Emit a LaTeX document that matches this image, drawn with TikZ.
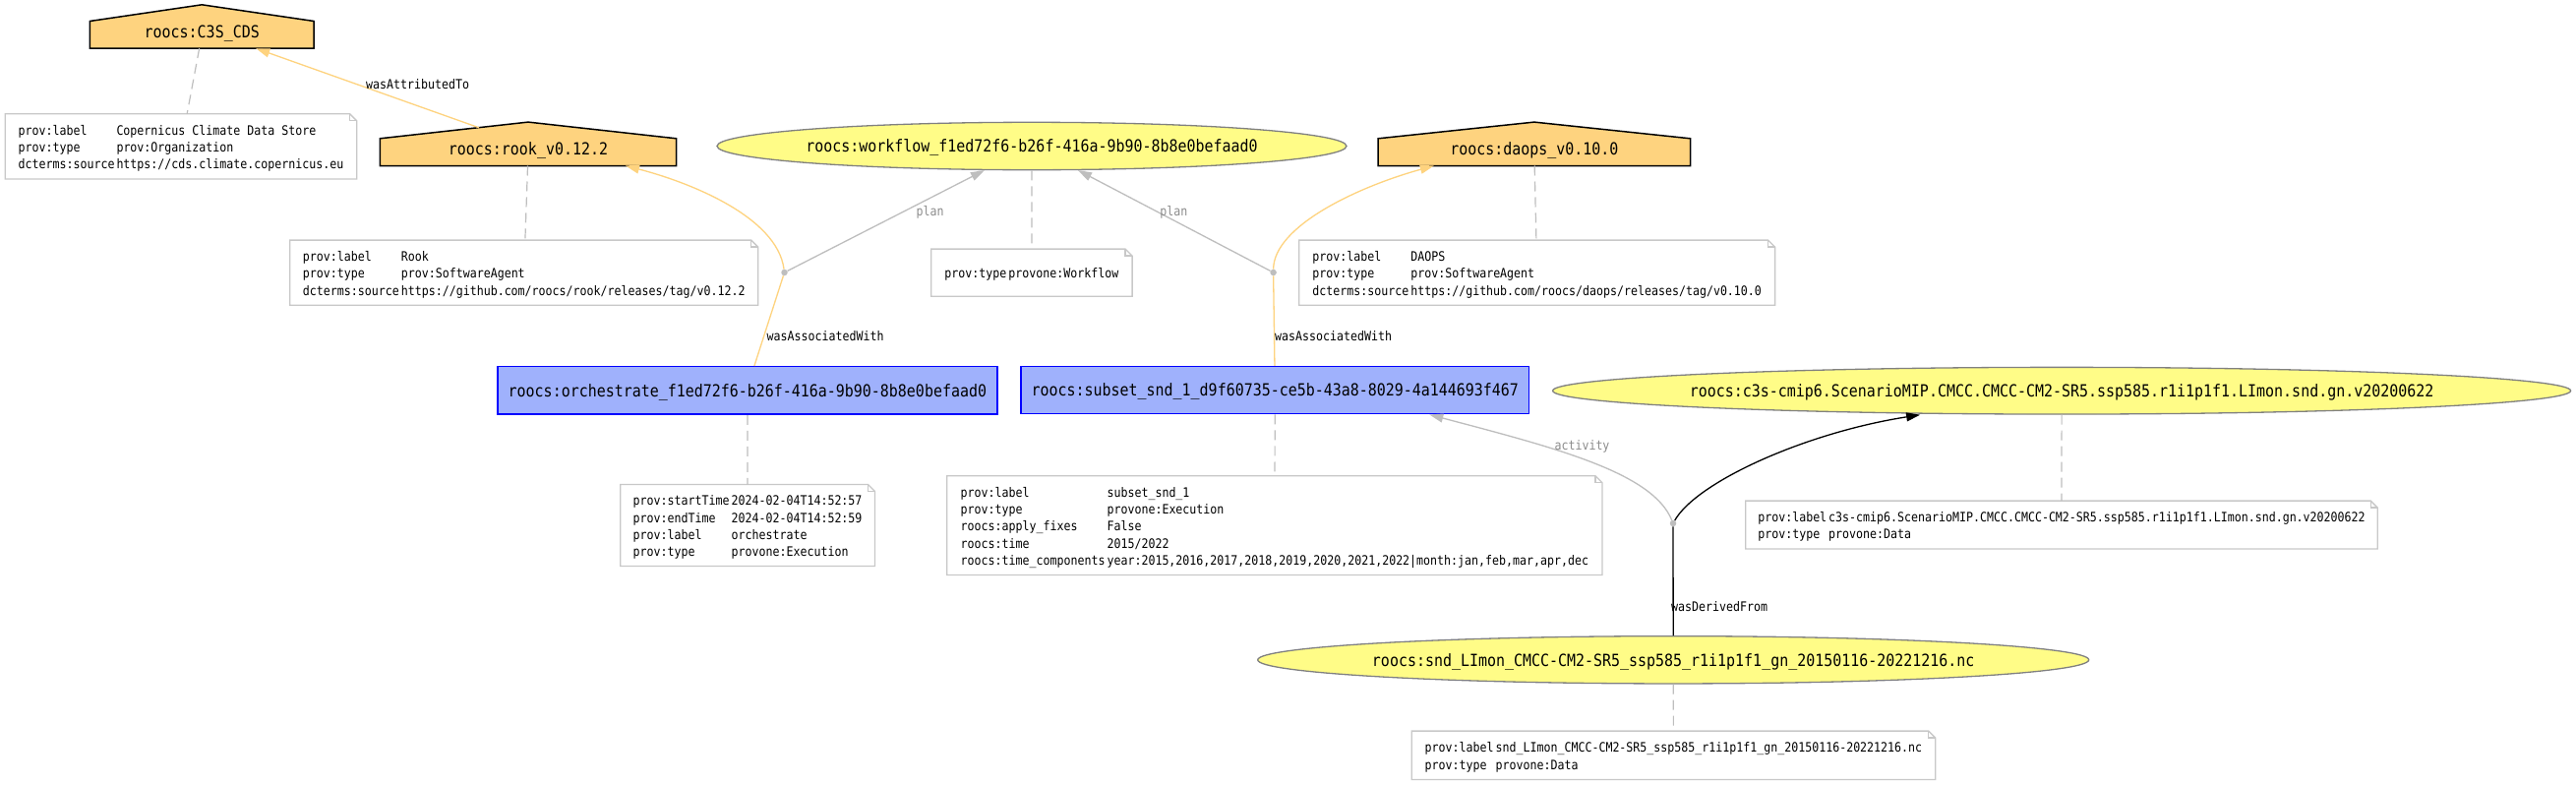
\documentclass[tikz,border=0pt]{standalone}
\usepackage{fontspec}
\newfontfamily\dvmono[FakeStretch=0.88]{DejaVu Sans Mono}
\usetikzlibrary{shapes.geometric,arrows.meta,backgrounds}
\definecolor{entfill}{HTML}{FFFC87}
\definecolor{entdraw}{HTML}{808080}
\definecolor{actfill}{HTML}{9FB1FC}
\definecolor{actdraw}{HTML}{0000FF}
\definecolor{agfill}{HTML}{FED37F}
\definecolor{edgegray}{HTML}{BEBEBE}
\definecolor{notegray}{HTML}{C8C8C8}
\definecolor{labgray}{HTML}{8C8C8C}
\newcommand\notebox[1]{%
  \draw[notedraw] (#1.south west) -- (#1.south east) -- ([yshift=-7pt]#1.north east) -- ([xshift=-7pt]#1.north east) -- (#1.north west) -- cycle;
  \draw[notedraw] ([xshift=-7pt]#1.north east) -- ([xshift=-7pt,yshift=-7pt]#1.north east) -- ([yshift=-7pt]#1.north east);}
\newcommand\houseroof[1]{%
  \begin{scope}[on background layer]
  \draw[housedraw] (#1.south west) -- (#1.south east) -- (#1.north east) -- ([yshift=16.7pt]#1.north) -- (#1.north west) -- cycle;
  \end{scope}}
\newcommand\ntab[1]{\raisebox{-2.2pt}[\height][\depth]{\begin{tabular}{@{}l@{\hspace{2pt}}l@{}}#1\end{tabular}}}
\begin{document}
\begin{tikzpicture}[x=1pt,y=-1pt,
  mainf/.style={font=\dvmono\fontsize{17}{20}\selectfont, text height=12.4pt, text depth=0pt},
  entity/.style={ellipse, draw=entdraw, fill=entfill, line width=1.3pt, inner sep=0pt, mainf},
  activity/.style={rectangle, draw=actdraw, fill=actfill, line width=1.5pt, inner sep=0pt, mainf},
  agent/.style={rectangle, inner sep=0pt, font=\dvmono\fontsize{17}{20}\selectfont, text height=16.3pt, text depth=11pt, minimum height=27.3pt},
  housedraw/.style={draw=black, fill=agfill, line width=1.5pt, line join=miter},
  note/.style={inner sep=0pt, font=\dvmono\fontsize{13.2}{17.3}\selectfont},
  notedraw/.style={draw=notegray, line width=1.3pt},
  notelink/.style={draw=edgegray, line width=1.2pt, dash pattern=on 10pt off 6pt},
  orangeedge/.style={draw=agfill, line width=1.3pt},
  grayedge/.style={draw=edgegray, line width=1.3pt},
  blackedge/.style={draw=black, line width=1.3pt},
  tip/.style={-{Triangle[length=14pt,width=9pt]}},
  elabel/.style={font=\dvmono\fontsize{13.2}{16}\selectfont, inner sep=0pt, text height=9.6pt, text depth=0pt},
  glabel/.style={elabel, text=labgray},
  dotnode/.style={circle, fill=edgegray, inner sep=0pt, minimum size=6.5pt},
]
\useasboundingbox (0,0) rectangle (2619,798);
\begin{scope}[on background layer]
\fill[white] (0,0) rectangle (2619,798);
\end{scope}

% agents (houses)
\node[agent, minimum width=227.5pt] (c3s) at (205.25,35.35) {roocs:C3S\_CDS};
\houseroof{c3s}
\node[agent, minimum width=301pt] (rook) at (537,154.65) {roocs:rook\_v0.12.2};
\houseroof{rook}
\node[agent, minimum width=317pt] (daops) at (1559.85,154.65) {roocs:daops\_v0.10.0};
\houseroof{daops}

% entities
\node[entity, minimum width=640pt, minimum height=48.4pt] (workflow) at (1049,148.5) {\makebox[0pt]{roocs:workflow\_f1ed72f6-b26f-416a-9b90-8b8e0befaad0}};
\node[entity, minimum width=1035pt, minimum height=47.7pt] (c3sdata) at (2096.1,397.2) {\makebox[0pt]{roocs:c3s-cmip6.ScenarioMIP.CMCC.CMCC-CM2-SR5.ssp585.r1i1p1f1.LImon.snd.gn.v20200622}};
\node[entity, minimum width=845pt, minimum height=48.3pt] (snd) at (1701.2,670.8) {\makebox[0pt]{roocs:snd\_LImon\_CMCC-CM2-SR5\_ssp585\_r1i1p1f1\_gn\_20150116-20221216.nc}};

% activities
\node[activity, minimum width=508pt, minimum height=48.3pt] (orch) at (759.9,396.85) {roocs:orchestrate\_f1ed72f6-b26f-416a-9b90-8b8e0befaad0};
\node[activity, minimum width=516.6pt, minimum height=48pt] (subset) at (1296.3,396.7) {roocs:subset\_snd\_1\_d9f60735-ce5b-43a8-8029-4a144693f467};

% blank nodes
\node[dotnode] (dot1) at (797.5,277) {};
\node[dotnode] (dot2) at (1294.6,277) {};
\node[dotnode] (dot3) at (1701,532) {};

% notes
\node[note, minimum width=357.1pt, minimum height=65.7pt] (c3snote) at (183.95,148.85) {\ntab{prov:label & Copernicus Climate Data Store\\ prov:type & prov:Organization\\ dcterms:source & https://cds.climate.copernicus.eu}};
\notebox{c3snote}
\node[note, minimum width=475.5pt, minimum height=65.7pt] (rooknote) at (532.75,277.15) {\ntab{prov:label & Rook\\ prov:type & prov:SoftwareAgent\\ dcterms:source & https://github.com/roocs/rook/releases/tag/v0.12.2}};
\notebox{rooknote}
\node[note, minimum width=204pt, minimum height=47.7pt] (wfnote) at (1048.9,277.15) {\ntab{prov:type & provone:Workflow}};
\notebox{wfnote}
\node[note, minimum width=483.4pt, minimum height=65.7pt] (daopsnote) at (1562.7,277.15) {\ntab{prov:label & DAOPS\\ prov:type & prov:SoftwareAgent\\ dcterms:source & https://github.com/roocs/daops/releases/tag/v0.10.0}};
\notebox{daopsnote}
\node[note, minimum width=258.4pt, minimum height=82.6pt] (orchnote) at (760.1,534) {\ntab{prov:startTime & 2024-02-04T14:52:57\\ prov:endTime & 2024-02-04T14:52:59\\ prov:label & orchestrate\\ prov:type & provone:Execution}};
\notebox{orchnote}
\node[note, minimum width=665.8pt, minimum height=100.3pt] (subsetnote) at (1295.9,534.15) {\ntab{prov:label & subset\_snd\_1\\ prov:type & provone:Execution\\ roocs:apply\_fixes & False\\ roocs:time & 2015/2022\\ roocs:time\_components & year:2015,2016,2017,2018,2019,2020,2021,2022|month:jan,feb,mar,apr,dec}};
\notebox{subsetnote}
\node[note, minimum width=642pt, minimum height=48.4pt] (c3sdatanote) at (2096,533.5) {\ntab{prov:label & c3s-cmip6.ScenarioMIP.CMCC.CMCC-CM2-SR5.ssp585.r1i1p1f1.LImon.snd.gn.v20200622\\ prov:type & provone:Data}};
\notebox{c3sdatanote}
\node[note, minimum width=532.1pt, minimum height=49pt] (sndnote) at (1701.45,767.8) {\ntab{prov:label & snd\_LImon\_CMCC-CM2-SR5\_ssp585\_r1i1p1f1\_gn\_20150116-20221216.nc\\ prov:type & provone:Data}};
\notebox{sndnote}

% note links
\draw[notelink] (c3s) -- (c3snote);
\draw[notelink] (rook) -- (rooknote);
\draw[notelink] (workflow) -- (wfnote);
\draw[notelink] (daops) -- (daopsnote);
\draw[notelink] (orch) -- (orchnote);
\draw[notelink] (subset) -- (subsetnote);
\draw[notelink] (c3sdata) -- (c3sdatanote);
\draw[notelink] (snd) -- (sndnote);

% edges
\draw[orangeedge, tip] ([xshift=-50pt,yshift=11pt]rook.north) -- ([xshift=55pt]c3s.south);
\draw[orangeedge] ([xshift=7pt]orch.north) -- (dot1);
\draw[orangeedge, tip] (dot1) .. controls (790,220) and (700,185) .. ([xshift=99pt]rook.south);
\draw[grayedge, tip] (dot1) -- (workflow);
\draw[orangeedge] (subset) -- (dot2);
\draw[orangeedge, tip] (dot2) .. controls (1295,230) and (1380,190) .. ([xshift=-102pt]daops.south);
\draw[grayedge, tip] (dot2) -- (workflow);
\draw[blackedge] (snd) -- (dot3);
\draw[blackedge, tip] (dot3) .. controls (1725,490) and (1835,440) .. ([xshift=-144pt]c3sdata.south);
\draw[grayedge, tip] (dot3) .. controls (1680,480) and (1580,455) .. ([xshift=157pt]subset.south);

% edge labels
\node[elabel, anchor=west] (l1) at (372,86) {wasAttributedTo};
\node[glabel] (l2) at (945.6,214.3) {plan};
\node[glabel] (l3) at (1193.3,214.3) {plan};
\node[elabel, anchor=west] (l4) at (779.5,342) {wasAssociatedWith};
\node[elabel, anchor=west] (l5) at (1296,342) {wasAssociatedWith};
\node[glabel] (l6) at (1608.5,453) {activity};
\node[elabel, anchor=west] (l7) at (1699,616.7) {wasDerivedFrom};
\end{tikzpicture}
\end{document}
